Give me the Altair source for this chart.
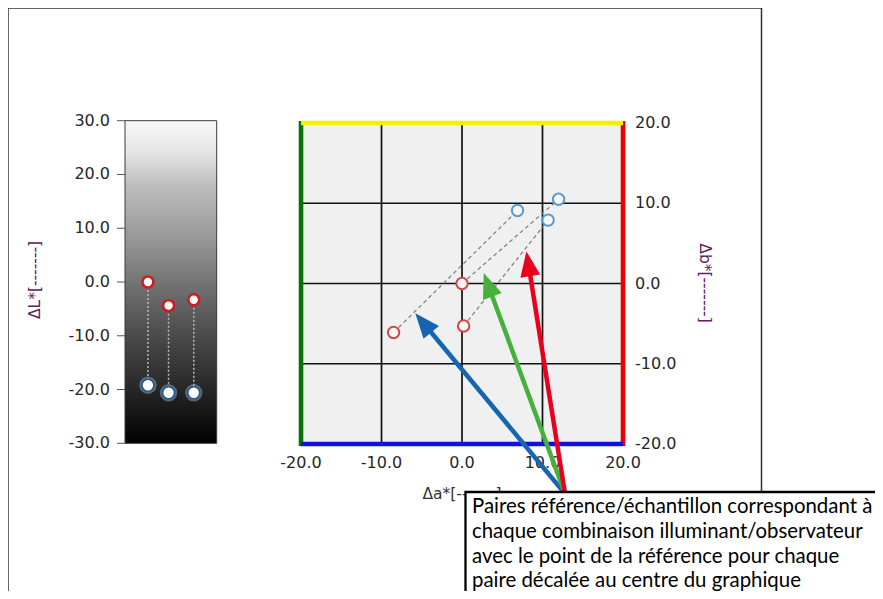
import altair as alt
import numpy as np
import pandas as pd

# ---------------- data ----------------
col_pos = [1.0, 1.9, 3.0]            # column position of each pair in the ΔL* strip
L_ref = [0.0, -4.4, -3.3]            # reference ΔL*
L_smp = [-19.2, -20.6, -20.6]        # sample ΔL*

a_ref = [-8.5, 0.0, 0.2]             # reference Δa*
b_ref = [-6.1, 0.0, -5.3]            # reference Δb*
a_smp = [6.9, 12.0, 10.7]            # sample Δa*
b_smp = [9.1, 10.5, 7.9]             # sample Δb*

L_ticks = [-30, -20, -10, 0, 10, 20, 30]
ab_ticks = [-20, -10, 0, 10, 20]
grid_vals = [-10, 0, 10]

arrow_tail = [12.8, -26.2]           # common origin of the three call-out arrows (Δa*, Δb*)
arrow_tip_a = [-5.8, 2.7, 8.0]
arrow_tip_b = [-3.7, 1.3, 4.0]
arrow_colors = ["#1565b0", "#46b03c", "#e8001e"]

note_lines = [
    "Paires référence/échantillon correspondant à",
    "chaque combinaison illuminant/observateur",
    "avec le point de la référence pour chaque",
    "paire décalée au centre du graphique",
]

title_L = "ΔL*[-------]"
title_a = "Δa*[-------]"
title_b = "Δb*[-------]"

# ---------------- layout (pixels inside the view) ----------------
W, H = 867, 583
LX_RANGE = [117, 208.7]
LY_RANGE = [435.3, 112.7]
RX_RANGE = [293, 615]
RY_RANGE = [436, 115]

FONT = "DejaVu Sans"
LABEL_SIZE = 16
LABEL_COLOR = "#262626"

lx = alt.Scale(domain=[0, 4], range=LX_RANGE, nice=False, zero=False)
ly = alt.Scale(domain=[-30, 30], range=LY_RANGE, nice=False, zero=False)
rx = alt.Scale(domain=[-20, 20], range=RX_RANGE, nice=False, zero=False)
ry = alt.Scale(domain=[-20, 20], range=RY_RANGE, nice=False, zero=False)


def fmt(v):
    return f"{v:.1f}"


# ---------------- left ΔL* strip ----------------
strip = pd.DataFrame({"x0": [0], "x1": [4], "y0": [-30], "y1": [30]})
grad = alt.Gradient(
    gradient="linear",
    stops=[
        alt.GradientStop(color="#f8f8f8", offset=0),
        alt.GradientStop(color="#e4e4e4", offset=0.1),
        alt.GradientStop(color="#bebebe", offset=0.2),
        alt.GradientStop(color="#999999", offset=0.36),
        alt.GradientStop(color="#747474", offset=0.5),
        alt.GradientStop(color="#4c4c4c", offset=0.66),
        alt.GradientStop(color="#252525", offset=0.84),
        alt.GradientStop(color="#000000", offset=1),
    ],
    x1=0, x2=0, y1=0, y2=1,
)

left_bg = alt.Chart(strip).mark_rect(fill=grad, stroke="#3a3a3a", strokeWidth=1).encode(
    x=alt.X("x0:Q", scale=lx, axis=None), x2="x1",
    y=alt.Y("y0:Q", scale=ly, axis=None), y2="y1",
)

ltick_df = pd.DataFrame({"v": L_ticks, "lab": [fmt(v) for v in L_ticks]})
left_ticks = alt.Chart(ltick_df).mark_rule(color="#555555", strokeWidth=1).encode(
    y=alt.Y("v:Q", scale=ly, axis=None), x=alt.value(109), x2=alt.value(117),
)
left_labels = alt.Chart(ltick_df).mark_text(align="right", baseline="middle", font=FONT,
                                             fontSize=LABEL_SIZE, color=LABEL_COLOR).encode(
    y=alt.Y("v:Q", scale=ly, axis=None), x=alt.value(102), text="lab:N",
)

left_df = pd.DataFrame({"c": col_pos, "Lr": L_ref, "Ls": L_smp})
left_lines = alt.Chart(left_df).mark_rule(color="#b8b8b8", strokeWidth=1.5, strokeDash=[2, 2]).encode(
    x=alt.X("c:Q", scale=lx, axis=None),
    y=alt.Y("Lr:Q", scale=ly, axis=None), y2="Ls",
)
left_halo = alt.Chart(left_df).mark_point(shape="circle", filled=True, color="#8fbce2", opacity=0.45, size=300).encode(
    x=alt.X("c:Q", scale=lx, axis=None), y=alt.Y("Ls:Q", scale=ly, axis=None),
)
left_smp = alt.Chart(left_df).mark_point(shape="circle", filled=True, fill="#ffffff", stroke="#22588f",
                                          strokeWidth=1.5, size=140, opacity=1).encode(
    x=alt.X("c:Q", scale=lx, axis=None), y=alt.Y("Ls:Q", scale=ly, axis=None),
)
left_ref = alt.Chart(left_df).mark_point(shape="circle", filled=True, fill="#ffffff", stroke="#d01c1c",
                                          strokeWidth=2.6, size=120, opacity=1).encode(
    x=alt.X("c:Q", scale=lx, axis=None), y=alt.Y("Lr:Q", scale=ly, axis=None),
)
left = alt.layer(left_bg, left_ticks, left_labels, left_lines, left_halo, left_smp, left_ref)

# ---------------- right Δa*/Δb* plane ----------------
plane = pd.DataFrame({"a": [-20], "a2": [20], "b": [-20], "b2": [20]})
right_bg = alt.Chart(plane).mark_rect(fill="#f0f0f0").encode(
    x=alt.X("a:Q", scale=rx, axis=None), x2="a2",
    y=alt.Y("b:Q", scale=ry, axis=None), y2="b2",
)

abtick_df = pd.DataFrame({"v": ab_ticks, "lab": [fmt(v) for v in ab_ticks]})
x_labels = alt.Chart(abtick_df).mark_text(align="center", baseline="middle", font=FONT,
                                           fontSize=LABEL_SIZE, color=LABEL_COLOR).encode(
    x=alt.X("v:Q", scale=rx, axis=None), y=alt.value(455), text="lab:N",
)
y_labels = alt.Chart(abtick_df).mark_text(align="left", baseline="middle", font=FONT,
                                           fontSize=LABEL_SIZE, color=LABEL_COLOR).encode(
    y=alt.Y("v:Q", scale=ry, axis=None), x=alt.value(627), text="lab:N",
)

gdf = pd.DataFrame({"g": grid_vals, "lo": [-20] * 3, "hi": [20] * 3})
vgrid = alt.Chart(gdf).mark_rule(color="#111111", strokeWidth=1.7).encode(
    x=alt.X("g:Q", scale=rx, axis=None), y=alt.Y("lo:Q", scale=ry, axis=None), y2="hi",
)
hgrid = alt.Chart(gdf).mark_rule(color="#111111", strokeWidth=1.7).encode(
    y=alt.Y("g:Q", scale=ry, axis=None), x=alt.X("lo:Q", scale=rx, axis=None), x2="hi",
)

border_df = pd.DataFrame({
    "a": [-20, 20, -20, -20], "a2": [-20, 20, 20, 20],
    "b": [-20.25, -20.25, 20, -20], "b2": [20.25, 20.25, 20, -20],
    "col": ["#0a700a", "#ee0000", "#f4f000", "#1010e0"],
})
borders = alt.Chart(border_df).mark_rule(strokeWidth=4.6).encode(
    x=alt.X("a:Q", scale=rx, axis=None), x2="a2",
    y=alt.Y("b:Q", scale=ry, axis=None), y2="b2",
    color=alt.Color("col:N", scale=None),
)

pairs = pd.DataFrame({"ar": a_ref, "br": b_ref, "as": a_smp, "bs": b_smp})
pair_lines = alt.Chart(pairs).mark_rule(color="#858585", strokeWidth=1.3, strokeDash=[4, 3]).encode(
    x=alt.X("ar:Q", scale=rx, axis=None), x2="as",
    y=alt.Y("br:Q", scale=ry, axis=None), y2="bs",
)
ref_pts = alt.Chart(pairs).mark_point(shape="circle", filled=True, fill="#f6f6f6", stroke="#d24848",
                                       strokeWidth=2, size=130, opacity=1).encode(
    x=alt.X("ar:Q", scale=rx, axis=None), y=alt.Y("br:Q", scale=ry, axis=None),
)
smp_pts = alt.Chart(pairs).mark_point(shape="circle", filled=True, fill="#f6f6f6", stroke="#5a9ad0",
                                       strokeWidth=2, size=130, opacity=1).encode(
    x=alt.X("as:Q", scale=rx, axis=None), y=alt.Y("bs:Q", scale=ry, axis=None),
)

# call-out arrows
tip_a = np.array(arrow_tip_a)
tip_b = np.array(arrow_tip_b)
dx = tip_a - arrow_tail[0]
dy = tip_b - arrow_tail[1]
ln = np.hypot(dx, dy)
back = 14 / 8.04
arrows = pd.DataFrame({
    "ta": [arrow_tail[0]] * 3, "tb": [arrow_tail[1]] * 3,
    "ea": tip_a - dx / ln * back, "eb": tip_b - dy / ln * back,
    "pa": tip_a, "pb": tip_b,
    "ang": (np.degrees(np.arctan2(dx, dy)) + 360) % 360,
    "col": arrow_colors,
})
arrow_lines = alt.Chart(arrows).mark_rule(strokeWidth=4.5).encode(
    x=alt.X("ta:Q", scale=rx, axis=None), x2="ea",
    y=alt.Y("tb:Q", scale=ry, axis=None), y2="eb",
    color=alt.Color("col:N", scale=None),
)
arrow_heads = alt.Chart(arrows).mark_point(shape="M0,0L-0.4,1L0.4,1Z", filled=True, size=2500,
                                           opacity=1, strokeWidth=0).encode(
    x=alt.X("pa:Q", scale=rx, axis=None), y=alt.Y("pb:Q", scale=ry, axis=None),
    angle=alt.Angle("ang:Q", scale=None),
    color=alt.Color("col:N", scale=None),
)

right = alt.layer(right_bg, x_labels, y_labels, vgrid, hgrid, borders, pair_lines,
                  ref_pts, smp_pts, arrow_lines, arrow_heads)

# ---------------- titles, frame and note box ----------------
one = alt.Data(values=[{"k": 1}])
t_L = alt.Chart(one).mark_text(angle=270, align="center", baseline="middle", font=FONT,
                                fontSize=15.5, color="#5a2060").encode(
    x=alt.value(27), y=alt.value(272), text=alt.value(title_L))
t_b = alt.Chart(one).mark_text(angle=90, align="center", baseline="middle", font=FONT,
                                fontSize=15.5, color="#5a2060").encode(
    x=alt.value(697), y=alt.value(275), text=alt.value(title_b))
t_a = alt.Chart(one).mark_text(align="center", baseline="middle", font=FONT,
                                fontSize=15.5, color="#333333").encode(
    x=alt.value(454), y=alt.value(486), text=alt.value(title_a))

frame = alt.Chart(one).mark_rect(fill="transparent", stroke="#333333", strokeWidth=1.5).encode(
    x=alt.value(0.0), x2=alt.value(753.5), y=alt.value(0.0), y2=alt.value(700),
)
box = alt.Chart(one).mark_rect(fill="#ffffff", stroke="#000000", strokeWidth=2.3).encode(
    x=alt.value(457.5), x2=alt.value(1000), y=alt.value(484), y2=alt.value(800),
)
note = alt.Chart(one).mark_text(align="left", baseline="alphabetic", font="Lato", fontSize=20.4,
                                 lineHeight=24.8, lineBreak="\n", color="#000000").encode(
    x=alt.value(464), y=alt.value(505), text=alt.value("\n".join(note_lines)),
)
annot = alt.layer(t_L, t_b, t_a, frame, box, note)

chart = (
    alt.layer(left, right, annot)
    .resolve_scale(x="independent", y="independent")
    .properties(width=W, height=H, padding=0, autosize=alt.AutoSizeParams(type="none"),
                background="#ffffff")
    .configure_view(stroke=None)
)

chart.save("out.html", embed_options={"renderer": "svg", "actions": False})
